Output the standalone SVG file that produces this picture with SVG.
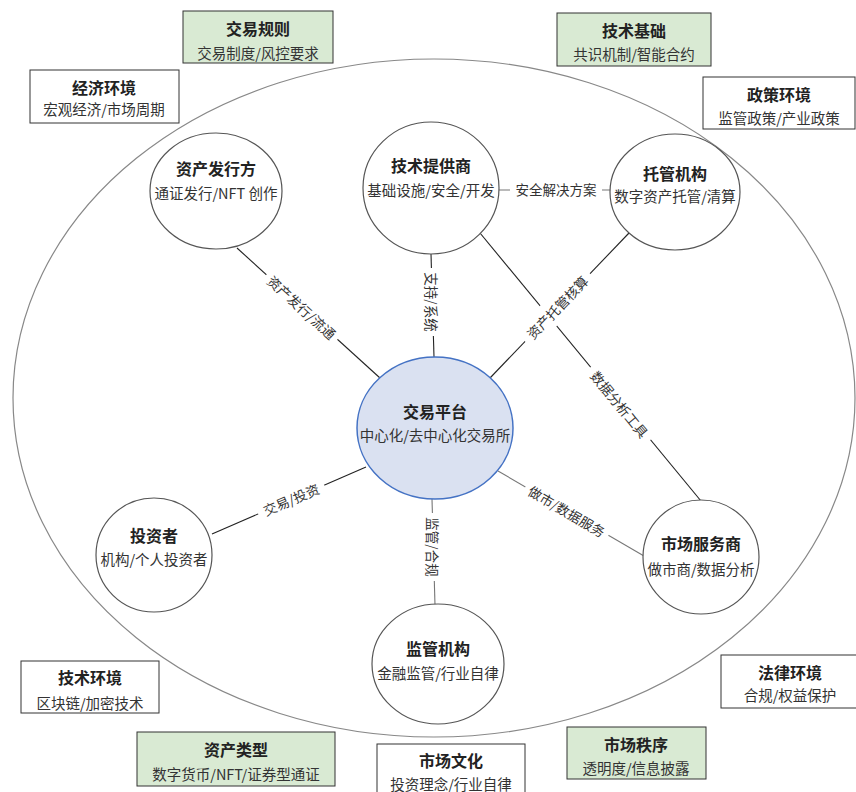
<svg xmlns="http://www.w3.org/2000/svg" width="856" height="792" viewBox="0 0 856 792">
<style>
text{font-family:"Noto Sans CJK SC","Noto Sans",sans-serif;text-anchor:middle;dominant-baseline:central;fill:#333}
.t{font-size:16px;font-weight:bold;fill:#222}
.s{font-size:14.5px;fill:#333}
.l{font-size:13.5px;fill:#333}
.box{fill:#fff;stroke:#333;stroke-width:1}
.gbox{fill:#d9ead3;stroke:#333;stroke-width:1}
.node{fill:#fff;stroke:#555;stroke-width:1.2}
.c{stroke:#222;stroke-width:1.1;fill:none}
.cg{stroke:#777;stroke-width:1.1;fill:none}
.lb{fill:#fff}
</style>
<rect width="856" height="792" fill="#fff"/>
<ellipse id="boundary" cx="434" cy="398" rx="421" ry="339" fill="none" stroke="#888" stroke-width="1.2"/>

<g id="connectors">
<line class="c" x1="237" y1="248" x2="380" y2="378"/>
<line class="c" x1="431" y1="254" x2="434" y2="357"/>
<line class="c" x1="629" y1="233" x2="490" y2="378"/>
<line class="c" x1="480" y1="233" x2="701" y2="501"/>
<line class="cg" x1="499" y1="190" x2="610" y2="190"/>
<line class="c" x1="366" y1="467" x2="212" y2="534"/>
<line class="cg" x1="498" y1="471" x2="644" y2="556"/>
<line class="cg" x1="432" y1="499" x2="435" y2="605"/>

<g transform="translate(302,307) rotate(42.3)"><rect class="lb" x="-48" y="-12" width="96" height="24"/><text class="l">资产发行/流通</text></g>
<g transform="translate(432,302) rotate(90)"><rect class="lb" x="-34" y="-12" width="68" height="24"/><text class="l">支持/系统</text></g>
<g transform="translate(620,404) rotate(50.5)"><rect class="lb" x="-47" y="-12" width="94" height="24"/><text class="l">数据分析工具</text></g>
<g transform="translate(557,307) rotate(-46)"><rect class="lb" x="-47" y="-13" width="94" height="26"/><text class="l">资产托管核算</text></g>
<g transform="translate(556,189)"><rect class="lb" x="-46" y="-12" width="92" height="24"/><text class="l">安全解决方案</text></g>
<g transform="translate(291,499) rotate(-23.2)"><rect class="lb" x="-36" y="-12" width="72" height="24"/><text class="l">交易/投资</text></g>
<g transform="translate(567,511) rotate(30.4)"><rect class="lb" x="-48" y="-12" width="96" height="24"/><text class="l">做市/数据服务</text></g>
<g transform="translate(433,547) rotate(90)"><rect class="lb" x="-34" y="-12" width="68" height="24"/><text class="l">监管/合规</text></g>
</g>

<g id="issuer"><ellipse class="node" cx="216" cy="191" rx="66" ry="58"/><text class="t" x="216" y="168">资产发行方</text><text class="s" x="216" y="192">通证发行/NFT 创作</text></g>
<g id="tech-provider"><ellipse class="node" cx="431" cy="188" rx="68" ry="66" stroke="#111" stroke-width="1.5"/><text class="t" x="431" y="165">技术提供商</text><text class="s" x="431" y="189">基础设施/安全/开发</text></g>
<g id="custodian"><ellipse class="node" cx="675" cy="192" rx="65" ry="58"/><text class="t" x="675" y="173">托管机构</text><text class="s" x="675" y="195">数字资产托管/清算</text></g>
<g id="platform"><ellipse cx="435" cy="428" rx="78" ry="71" fill="#dae1f1" stroke="#4472c4" stroke-width="1.5"/><text class="t" x="435" y="411">交易平台</text><text class="s" x="435" y="434">中心化/去中心化交易所</text></g>
<g id="investor"><ellipse class="node" cx="154" cy="555" rx="58" ry="57"/><text class="t" x="154" y="535">投资者</text><text class="s" x="154" y="558">机构/个人投资者</text></g>
<g id="market-service"><ellipse class="node" cx="701" cy="557" rx="58" ry="57"/><text class="t" x="701" y="543">市场服务商</text><text class="s" x="701" y="568">做市商/数据分析</text></g>
<g id="regulator"><ellipse class="node" cx="438" cy="664" rx="66" ry="60"/><text class="t" x="438" y="648">监管机构</text><text class="s" x="438" y="672">金融监管/行业自律</text></g>

<g id="trade-rules"><rect class="gbox" x="183" y="11" width="150" height="52"/><text class="t" x="258" y="28">交易规则</text><text class="s" x="258" y="52">交易制度/风控要求</text></g>
<g id="tech-base"><rect class="gbox" x="557" y="13" width="154" height="53"/><text class="t" x="634" y="30">技术基础</text><text class="s" x="634" y="53">共识机制/智能合约</text></g>
<g id="economy"><rect class="box" x="30" y="70" width="149" height="53"/><text class="t" x="104" y="87">经济环境</text><text class="s" x="104" y="108">宏观经济/市场周期</text></g>
<g id="policy"><rect class="box" x="703" y="77" width="152" height="52"/><text class="t" x="779" y="94">政策环境</text><text class="s" x="779" y="117">监管政策/产业政策</text></g>
<g id="tech-env"><rect class="box" x="21" y="661" width="138" height="52"/><text class="t" x="90" y="677">技术环境</text><text class="s" x="90" y="702">区块链/加密技术</text></g>
<g id="asset-types"><rect class="gbox" x="137" y="732" width="198" height="54"/><text class="t" x="236" y="749">资产类型</text><text class="s" x="236" y="773">数字货币/NFT/证券型通证</text></g>
<g id="market-culture"><rect class="box" x="377" y="744" width="148" height="52"/><text class="t" x="451" y="760">市场文化</text><text class="s" x="451" y="783">投资理念/行业自律</text></g>
<g id="market-order"><rect class="gbox" x="567" y="727" width="139" height="52"/><text class="t" x="636" y="744">市场秩序</text><text class="s" x="636" y="767">透明度/信息披露</text></g>
<g id="legal"><rect class="box" x="721" y="655" width="140" height="53"/><text class="t" x="790" y="672">法律环境</text><text class="s" x="790" y="694">合规/权益保护</text></g>
</svg>
